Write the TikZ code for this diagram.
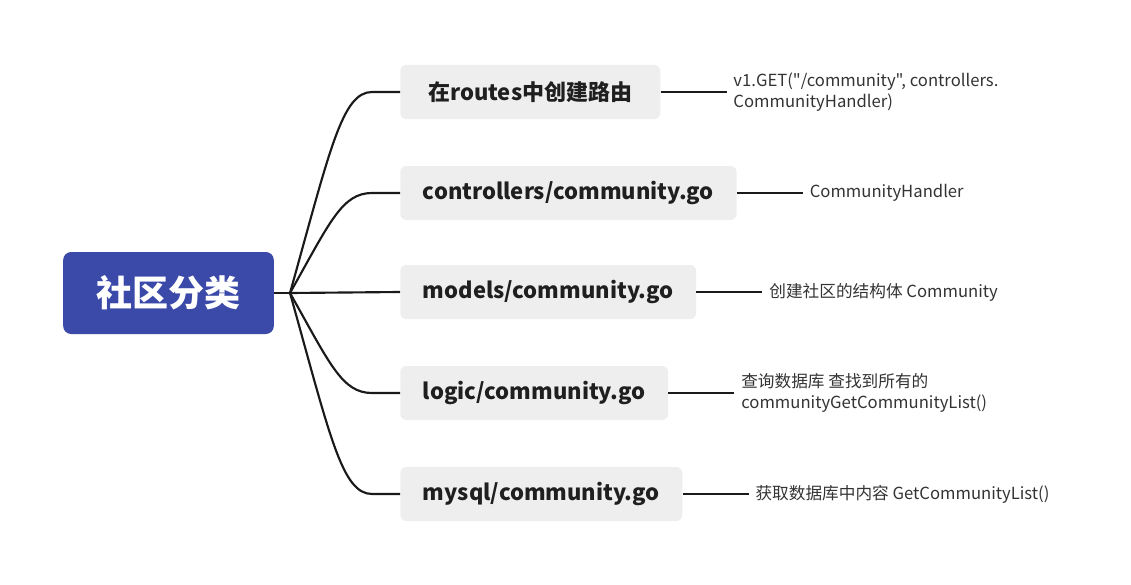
\documentclass[tikz,border=0pt]{standalone}
\usepackage{fontspec}
\setmainfont{Noto Sans CJK SC}[Ligatures=TeXOff]
\usepackage{xcolor}
\usetikzlibrary{positioning}

\definecolor{rootblue}{HTML}{3B4AA9}
\definecolor{boxgray}{HTML}{EEEEEE}
\definecolor{linedark}{HTML}{1A1A1A}
\definecolor{leaftext}{HTML}{333333}

\begin{document}
\begin{tikzpicture}[x=0.75pt, y=-0.75pt,
        root/.style={fill=rootblue, text=white, rounded corners=6pt,
            minimum width=158pt, minimum height=61.5pt,
            font=\fontsize{27}{30}\selectfont\bfseries},
        topic/.style={fill=boxgray, text=black!88, rounded corners=4.5pt,
            minimum height=40.5pt, inner xsep=17pt, anchor=west,
            font=\fontsize{16.5}{20}\selectfont\bfseries},
        leaf/.style={text=leaftext, inner xsep=5pt, align=left,
            font=\fontsize{12.5}{16}\selectfont},
        link/.style={draw=linedark, line width=1.6pt}]
    \useasboundingbox (0,0) rectangle (1131,585);
    % centre
    \node[root] (root) at (168.5,293) {社区分类};
    \coordinate (hub) at (290,293);
    % branches
    \node[topic, inner xsep=21pt] (routes) at (400,92) {在routes中创建路由};
    \node[topic] (ctrl) at (400,193) {controllers/community.go};
    \node[topic] (models) at (400,292) {models/community.go};
    \node[topic] (logic) at (400,393) {logic/community.go};
    \node[topic] (mysql) at (400,494) {mysql/community.go};
    % notes
    \node[leaf, right=49.5pt of routes] (routesnote) {v1.GET("/community", controllers.\\CommunityHandler)};
    \node[leaf, right=49.5pt of ctrl] (ctrlnote) {CommunityHandler};
    \node[leaf, right=49.5pt of models] (modelsnote) {创建社区的结构体 Community};
    \node[leaf, right=49.5pt of logic] (logicnote) {查询数据库 查找到所有的\\communityGetCommunityList()};
    \node[leaf, right=49.5pt of mysql] (mysqlnote) {获取数据库中内容 GetCommunityList()};
    % connectors
    \draw[link] (root.east) -- (hub);
    \draw[link] (hub) .. controls (330,150) and (342,92) .. ([xshift=-21pt]routes.west) -- (routes.west);
    \draw[link] (hub) .. controls (330,222) and (342,193) .. ([xshift=-21pt]ctrl.west) -- (ctrl.west);
    \draw[link] (hub) -- (models.west);
    \draw[link] (hub) .. controls (330,364) and (342,393) .. ([xshift=-21pt]logic.west) -- (logic.west);
    \draw[link] (hub) .. controls (330,436) and (342,494) .. ([xshift=-21pt]mysql.west) -- (mysql.west);
    \draw[link] (routes) -- (routesnote);
    \draw[link] (ctrl) -- (ctrlnote);
    \draw[link] (models) -- (modelsnote);
    \draw[link] (logic) -- (logicnote);
    \draw[link] (mysql) -- (mysqlnote);
\end{tikzpicture}
\end{document}
